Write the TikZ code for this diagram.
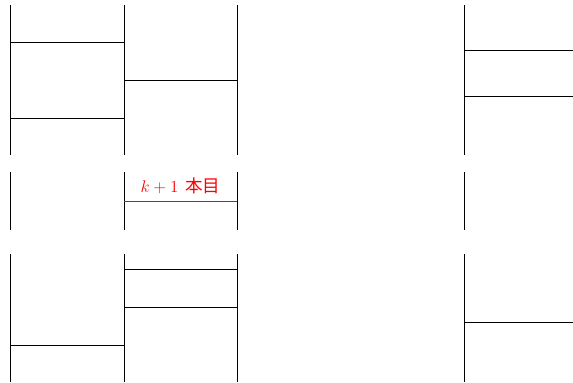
\documentclass[tikz,border=0pt]{standalone}
\usepackage{fontspec}
\newfontfamily\cjk{Noto Sans CJK JP}
\begin{document}
\begin{tikzpicture}[x=0.03cm,y=-0.03cm,line join=round,line cap=butt,
	tate/.style={line width=0.6pt},
	yoko/.style={line width=0.6pt}]
	\useasboundingbox (0,0) rectangle (573,382);
	% tate-sen
	\foreach \x in {10,124,237,464}{
		\draw[tate] (\x,5) -- (\x,155);
		\draw[tate] (\x,172) -- (\x,230);
		\draw[tate] (\x,254) -- (\x,382);
	}
	% yoko-sen
	\foreach \a/\b/\y in {10/124/42,10/124/118,124/237/80,464/573/50,464/573/96,124/237/269,124/237/307,10/124/345,464/573/322}{
		\draw[yoko] (\a,\y) -- (\b,\y);
	}
	\draw[yoko,red,line width=0.7pt] (124,201) -- (237,201);
	\node[red,font=\fontsize{15}{17}\selectfont] (kplus) at (180.5,186) {$k+1$\hspace{0.4em}{\cjk 本目}};
\end{tikzpicture}
\end{document}
